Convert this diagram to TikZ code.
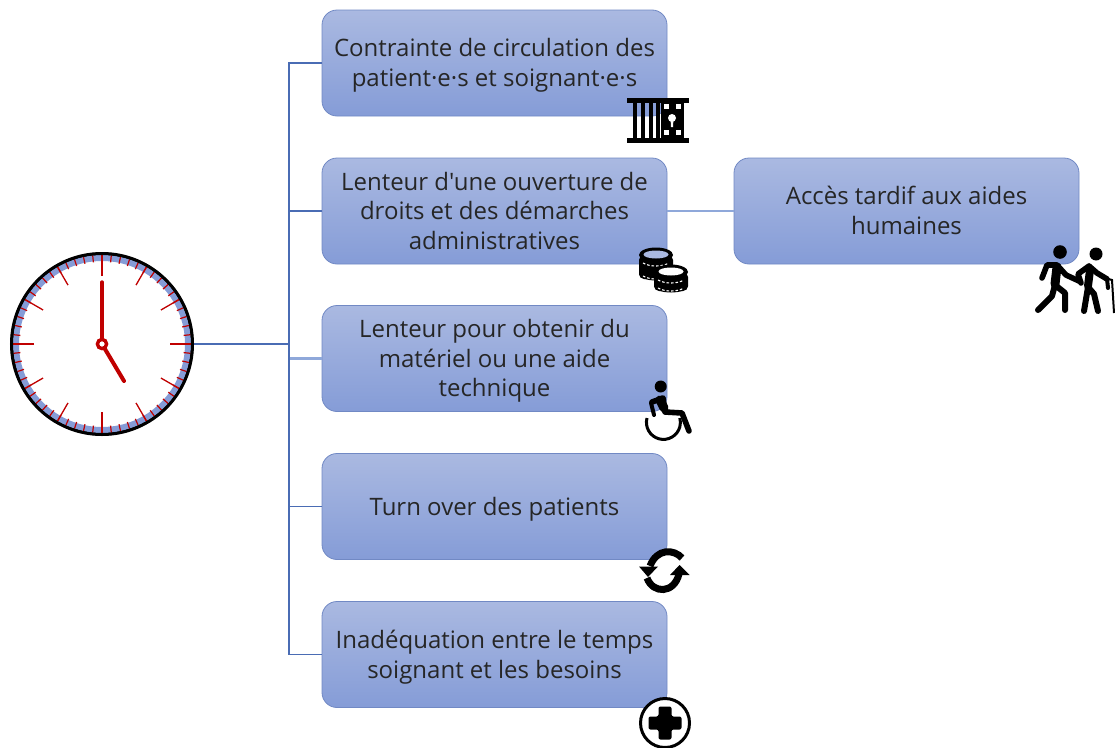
\documentclass[tikz,border=0pt]{standalone}
\usepackage{fontspec}
\usetikzlibrary{calc}
\newfontfamily\cardfont{Open Sans}
\definecolor{boxtop}{HTML}{AAB9E1}
\definecolor{boxbot}{HTML}{859CD7}
\definecolor{boxline}{HTML}{7189C4}
\definecolor{linkdark}{HTML}{4A6CB4}
\definecolor{linklight}{HTML}{8FA8DA}
\definecolor{clockred}{HTML}{C00000}
\definecolor{txt}{HTML}{262626}
\newcommand{\cardtext}[1]{\raisebox{-2.8pt}[\height][\depth]{\begin{tabular}{@{}c@{}}#1\end{tabular}}}
\tikzset{
  card/.style={rectangle,rounded corners=15pt,draw=boxline,line width=0.8pt,top color=boxtop,bottom color=boxbot,
    minimum width=345pt,minimum height=106pt,inner sep=0pt,text=txt,
    font=\cardfont\fontsize{24}{29.6}\selectfont},
  link/.style={draw=linkdark,line width=1.4pt},
  lightlink/.style={draw=linklight,line width=2.2pt},
  figure/.style={black,line width=5.6pt,line cap=round,line join=round},
  hand/.style={clockred,line cap=round}
}
\begin{document}
\begin{tikzpicture}[x=1pt,y=-1pt]
\useasboundingbox (0,0) rectangle (1115,747);
\node[card] (b1) at (494.5,63) {\cardtext{Contrainte de circulation des\\patient·e·s et soignant·e·s}};
\node[card] (b2) at (494.5,211) {\cardtext{Lenteur d'une ouverture de\\droits et des démarches\\administratives}};
\node[card] (b3) at (494.5,358.5) {\cardtext{Lenteur pour obtenir du\\matériel ou une aide\\technique}};
\node[card] (b4) at (494.5,506.5) {\cardtext{Turn over des patients}};
\node[card] (b5) at (494.5,654.5) {\cardtext{Inadéquation entre le temps\\soignant et les besoins}};
\node[card] (b6) at (906.5,211) {\cardtext{Accès tardif aux aides\\humaines}};
\node[circle,draw=black,line width=3pt,fill=white,minimum size=180pt,inner sep=0pt] (clock) at (102,344) {};
\coordinate (trunk) at (289,344);
% connectors
\draw[lightlink] (trunk) |- (b3.west);
\draw[link] (clock.east) -- (trunk);
\draw[link] (trunk) |- (b1.west);
\draw[link] (trunk) |- (b2.west);
\draw[link] (trunk) |- (b4.west);
\draw[link] (trunk) |- (b5.west);
\draw[lightlink] (b2.east) -- (b6.west);
% clock dial
\draw[boxbot,line width=6pt] (clock.center) circle[radius=86pt];
\foreach \a in {0,6,...,354}{\draw[clockred,line width=1.2pt] ($(clock.center)+(\a:82pt)$) -- ($(clock.center)+(\a:89pt)$);}
\foreach \a in {0,30,...,330}{\draw[clockred,line width=1.3pt] ($(clock.center)+(\a:68pt)$) -- ($(clock.center)+(\a:89pt)$);}
\draw[black,line width=3pt] (clock.center) circle[radius=90.5pt];
\draw[hand,line width=3.4pt] (clock.center) -- (102,282);
\draw[hand,line width=4pt] (clock.center) -- (124,381);
\draw[clockred,line width=3.4pt,fill=white] (clock.center) circle[radius=4.6pt];
% jail
\fill[black] (627,98) rectangle (689,103);
\fill[black] (627,137.5) rectangle (689,142.5);
\foreach \x in {633,641,649,656}{\fill[black] (\x,100) rectangle (\x+3.6,140);}
\fill[black] (661,100) rectangle (684,140);
\foreach \x/\y in {664/104,676/104,664/130,676/130}{\fill[white] (\x,\y) rectangle (\x+5,\y+5);}
\fill[white] (672,118) circle[radius=4pt];
\fill[white] (670.5,118) -- (673.5,118) -- (673,127) -- (671,127) -- cycle;
% coins
\foreach \cx/\ty/\by/\topc in {656/255/274/boxtop,671/272/286/white}{
  \fill[black,rounded corners=5pt] (\cx-17,\ty) rectangle (\cx+17,\by+5);
  \fill[black] (\cx,\by) ellipse[x radius=17pt,y radius=6.5pt];
  \fill[black] (\cx,\ty) ellipse[x radius=17pt,y radius=7.5pt];
  \fill[\topc] (\cx,\ty-0.5) ellipse[x radius=12.5pt,y radius=4pt];
  \draw[white,line width=1.1pt,dash pattern=on 2.5pt off 2pt] (\cx-13,\ty+8) .. controls (\cx-6,\ty+12) and (\cx+6,\ty+12) .. (\cx+13,\ty+8);
  \draw[white,line width=1.1pt,dash pattern=on 2.5pt off 2pt] (\cx-13,\by+2) .. controls (\cx-6,\by+6) and (\cx+6,\by+6) .. (\cx+13,\by+2);
}
% walkers
\fill[black] (1060,252) circle[radius=6.8pt];
\draw[figure,line width=9pt] (1057,267) -- (1055,284);
\draw[figure] (1042,278) -- (1047,265) -- (1057,265) -- (1066,275) -- (1079,281);
\draw[figure,line width=6pt] (1055,285) -- (1052,296) -- (1038,310);
\draw[figure,line width=6pt] (1055,285) -- (1065,293) -- (1065,310);
\fill[black] (1096,254) circle[radius=6.5pt];
\draw[figure,line width=8pt] (1090,270) -- (1088,286);
\draw[figure] (1081,283) -- (1078,274) -- (1089,266) -- (1097,273) -- (1107,279);
\draw[figure,line width=4pt] (1107,279) -- (1108,288);
\draw[figure,line width=6pt] (1088,287) -- (1084,311);
\draw[figure,line width=6pt] (1088,287) -- (1094,294) -- (1098,311);
\draw[black,line width=2pt] (1105,278) -- (1112,280) -- (1114,313);
% wheelchair
\fill[black] (660.7,386.5) circle[radius=6pt];
\draw[figure] (652,402) -- (663,398) -- (665,412) -- (682,413) -- (689,431);
\draw[figure,line width=9pt] (660,400) -- (664,408);
\draw[figure,line width=4pt] (651,403) -- (654,415);
\draw[black,line width=3pt] (647,418) arc[start angle=165,end angle=375,radius=17pt];
% sync
\draw[black,line width=7pt] (682,558) .. controls (674,549) and (657,548) .. (650,566);
\fill[black] (639,566.5) -- (658,566.5) -- (648,577) -- cycle;
\draw[black,line width=7pt] (647,578) .. controls (653,594) and (674,594) .. (679,574);
\fill[black] (670,575) -- (689.5,575) -- (679.5,565) -- cycle;
% plus
\draw[black,line width=3pt,fill=white] (665,723) circle[radius=24.5pt];
\fill[black,rounded corners=2pt] (658.5,706.5) -- (671.5,706.5) -- (671.5,716.5) -- (681.5,716.5) -- (681.5,729.5) -- (671.5,729.5) -- (671.5,739.5) -- (658.5,739.5) -- (658.5,729.5) -- (648.5,729.5) -- (648.5,716.5) -- (658.5,716.5) -- cycle;
\end{tikzpicture}
\end{document}
